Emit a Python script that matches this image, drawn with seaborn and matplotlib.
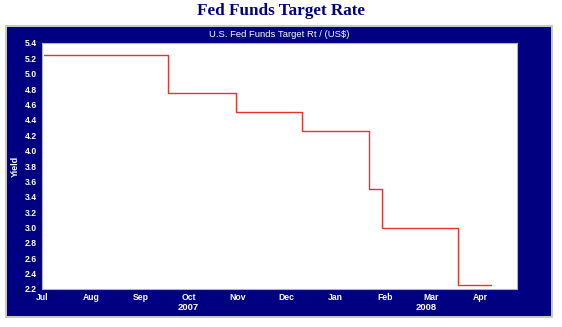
import matplotlib
matplotlib.use("Agg")
import matplotlib.pyplot as plt
import matplotlib.dates as mdates
import matplotlib.transforms as mtransforms
from matplotlib.patches import Rectangle
import numpy as np
import pandas as pd
import seaborn as sns

# ---- data ----
change_dates = ["2007-07-02", "2007-09-18", "2007-10-31", "2007-12-11",
                "2008-01-22", "2008-01-30", "2008-03-18", "2008-04-08"]
target_rate = [5.25, 4.75, 4.50, 4.25, 3.50, 3.00, 2.25, 2.25]
y_ticks = [2.2, 2.4, 2.6, 2.8, 3.0, 3.2, 3.4, 3.6, 3.8, 4.0, 4.2, 4.4, 4.6, 4.8, 5.0, 5.2, 5.4]
year_labels = ["2007", "2008"]
year_centers = ["2007-10-01", "2008-02-27"]
x_start, x_end = "2007-07-01", "2008-04-24"

df = pd.DataFrame({"date": pd.to_datetime(change_dates), "rate": target_rate})

sns.set_style("white")
plt.rcParams["font.family"] = ["Liberation Sans", "DejaVu Sans"]

NAVY = "#000080"
fig = plt.figure(figsize=(5.62, 3.27), dpi=100, facecolor="white")

# outer gray frame and navy panel
fig.patches.append(Rectangle((5 / 562, 1 - 318 / 327), 548 / 562, 293 / 327,
                             transform=fig.transFigure, facecolor="#c8c8c8",
                             edgecolor="none", zorder=-20))
fig.patches.append(Rectangle((7 / 562, 1 - 316 / 327), 544 / 562, 289 / 327,
                             transform=fig.transFigure, facecolor=NAVY,
                             edgecolor="none", zorder=-10))

fig.text(281 / 562, 1 - 11 / 327, "Fed Funds Target Rate", ha="center", va="center",
         fontsize=12.3, fontweight="bold", color=NAVY,
         family=["Liberation Serif", "DejaVu Serif"])

ax = fig.add_axes([42 / 562, 1 - 289 / 327, 475 / 562, 246 / 327])
ax.set_zorder(5)
ax.set_facecolor("white")

sns.lineplot(data=df, x="date", y="rate", ax=ax, color="#e8322e", linewidth=1.0,
             drawstyle="steps-post")

ax.set_xlim(pd.Timestamp(x_start), pd.Timestamp(x_end))
ax.set_ylim(2.2, 5.4)
ax.set_yticks(y_ticks)
ax.yaxis.set_major_formatter(matplotlib.ticker.FormatStrFormatter("%.1f"))
ax.xaxis.set_major_locator(mdates.MonthLocator())
ax.xaxis.set_major_formatter(mdates.DateFormatter("%b"))

ax.tick_params(axis="both", colors="#9090b0", labelcolor="white", length=2.5,
               width=0.6, labelsize=6.2, pad=1.0)
ax.tick_params(axis="x", pad=0.6)
for lab in ax.get_xticklabels() + ax.get_yticklabels():
    lab.set_fontweight("bold")
for s in ax.spines.values():
    s.set_color("#b0b0c8")
    s.set_linewidth(0.8)

ax.set_xlabel("")
ax.set_ylabel("Yield", color="white", fontsize=6.5, fontweight="bold", labelpad=4)
ax.set_title("U.S. Fed Funds Target Rt / (US$)", color="white", fontsize=6.8, pad=4)

trans = mtransforms.blended_transform_factory(ax.transData, ax.transAxes)
for lbl, c in zip(year_labels, year_centers):
    ax.text(mdates.date2num(pd.Timestamp(c)), -0.075, lbl, transform=trans,
            ha="center", va="center", color="white", fontsize=6.8, fontweight="bold")

fig.savefig("out.png", dpi=100, facecolor="white")
